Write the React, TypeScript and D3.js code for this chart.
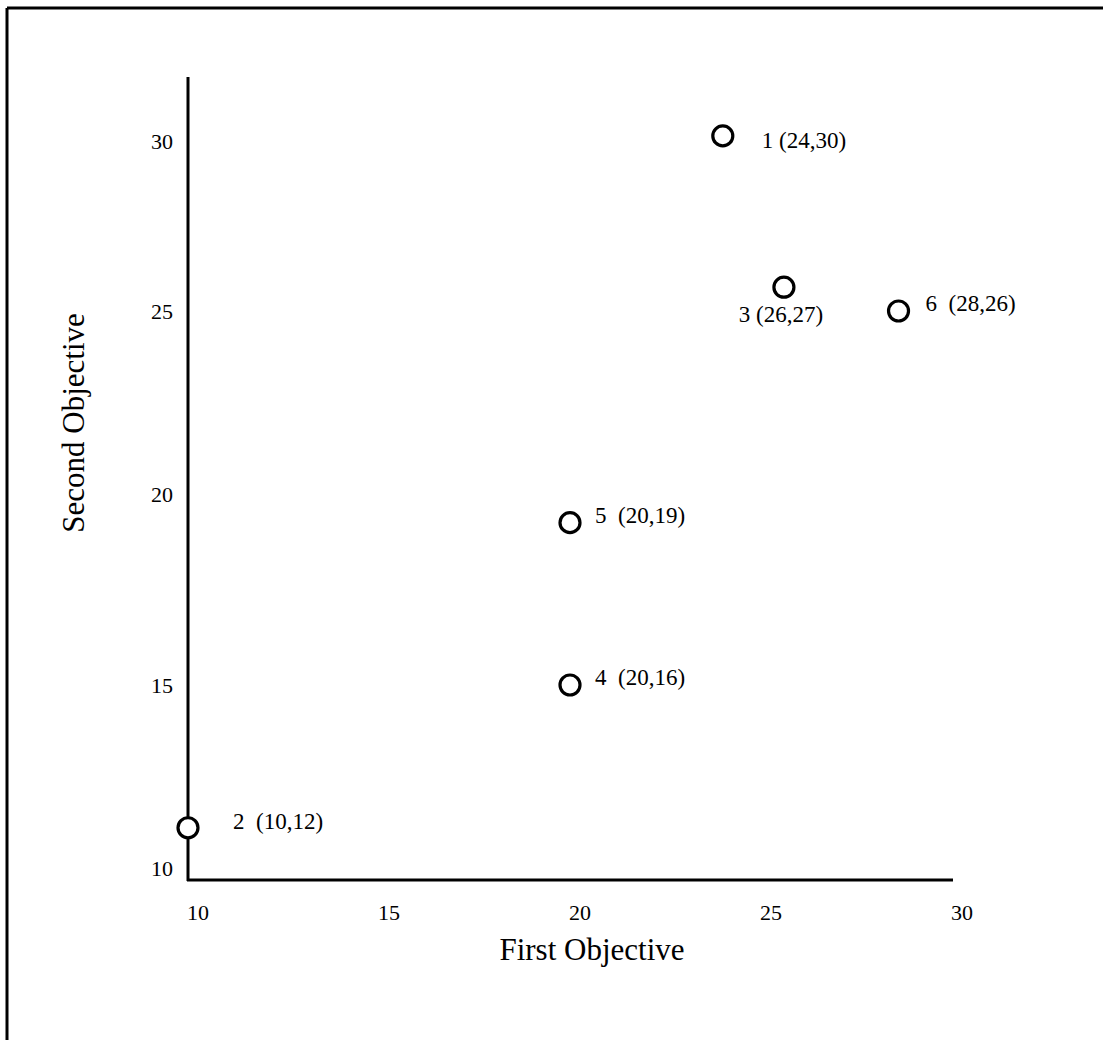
import React from "react";
import * as d3 from "d3";

// ---- data ----
const pointIds = [1, 2, 3, 4, 5, 6];
const firstObjective = [24.0, 10.0, 25.6, 20.0, 20.0, 28.6];
const secondObjective = [30.15, 11.1, 25.7, 15.0, 19.25, 25.0];
const pointLabels = [
  "1 (24,30)",
  "2  (10,12)",
  "3 (26,27)",
  "4  (20,16)",
  "5  (20,19)",
  "6  (28,26)",
];
const xTicks = [10, 15, 20, 25, 30];
const yTicks = [10, 15, 20, 25, 30];
const xTitle = "First Objective";
const yTitle = "Second Objective";

// ---- layout ----
const W = 1103;
const H = 1040;
const FONT = "'Liberation Serif', 'Times New Roman', serif";
const axisX = 188;
const axisY = 880;
const axisTop = 77;
const axisRight = 953;
// the hand-drawn vertical axis is not evenly spaced
const yTickPixels = [868, 685, 494, 311, 141];

// label placement per point id: [dx, dy, anchor]
const labelPlacement: Record<number, [number, number, string]> = {
  1: [39, 12, "start"],
  2: [45, 1, "start"],
  3: [-3, 35, "middle"],
  4: [25, 0, "start"],
  5: [25, 0, "start"],
  6: [27, 0, "start"],
};

export default function App() {
  const x = d3.scaleLinear().domain([10, 30]).range([axisX, axisRight - 1]);
  const y = d3.scaleLinear().domain(yTicks).range(yTickPixels);

  const points = pointIds.map((id, i) => ({
    id,
    cx: x(firstObjective[i]),
    cy: y(secondObjective[i]),
    label: pointLabels[i],
  }));

  return (
    <div style={{ position: "absolute", left: 0, top: 0 }}>
      <svg width={W} height={H} style={{ display: "block", background: "#fff" }}>
        <rect x={0} y={0} width={W} height={H} fill="#fff" />
        {/* frame */}
        <line x1={7} y1={8} x2={W} y2={8} stroke="#000" strokeWidth={3} />
        <line x1={7} y1={8} x2={7} y2={H} stroke="#000" strokeWidth={3} />

        {/* axes */}
        <line x1={axisX} y1={axisTop} x2={axisX} y2={axisY + 1} stroke="#000" strokeWidth={3} />
        <line x1={axisX - 1} y1={axisY} x2={axisRight} y2={axisY} stroke="#000" strokeWidth={3} />

        {/* x tick labels */}
        {xTicks.map((t) => (
          <text
            key={"x" + t}
            x={x(t) + 10}
            y={920}
            textAnchor="middle"
            fontFamily={FONT}
            fontSize={22}
          >
            {t}
          </text>
        ))}
        {/* y tick labels */}
        {yTicks.map((t) => (
          <text
            key={"y" + t}
            x={173}
            y={y(t)}
            dy="0.35em"
            textAnchor="end"
            fontFamily={FONT}
            fontSize={22}
          >
            {t}
          </text>
        ))}

        {/* titles */}
        <text x={592} y={960} textAnchor="middle" fontFamily={FONT} fontSize={31}>
          {xTitle}
        </text>
        <text
          transform={`translate(84, 423) rotate(-90)`}
          textAnchor="middle"
          fontFamily={FONT}
          fontSize={31}
        >
          {yTitle}
        </text>

        {/* points */}
        {points.map((p) => (
          <circle key={"c" + p.id} cx={p.cx} cy={p.cy} r={10} fill="#fff" stroke="#000" strokeWidth={3.2} />
        ))}
        {points.map((p) => {
          const [dx, dy, anchor] = labelPlacement[p.id];
          return (
            <text
              key={"t" + p.id}
              x={p.cx + dx}
              y={p.cy + dy}
              textAnchor={anchor}
              fontFamily={FONT}
              fontSize={23}
              style={{ whiteSpace: "pre" }}
              xmlSpace="preserve"
            >
              {p.label}
            </text>
          );
        })}
      </svg>
    </div>
  );
}
